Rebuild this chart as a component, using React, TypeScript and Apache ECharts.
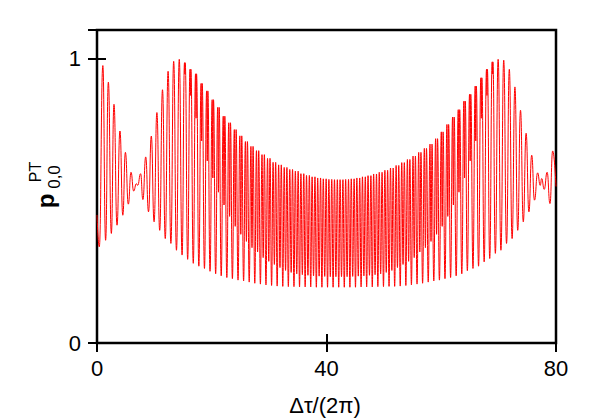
import React, { useEffect, useRef } from 'react';
import * as echarts from 'echarts';

const xTickValues = [0, 40, 80];
const yTickValues = [0, 1];

// Left edge and the first node: turning points
const leftX = [0, 0.4, 1.02, 1.5, 1.98, 2.5, 2.96, 3.49, 4.0, 4.5, 4.95, 5.46, 5.93, 6.39, 6.86, 7.09, 7.6];
const leftY = [0.45, 0.338, 0.975, 0.361, 0.917, 0.385, 0.839, 0.414, 0.745, 0.449, 0.67, 0.488, 0.6, 0.534, 0.56, 0.554, 0.595];

// Positions of the deep minima of each oscillation (n = 0..70)
const cycleLowX = [
  8.0, 8.98, 9.95, 10.93, 11.9, 12.88, 13.85, 14.83, 15.8, 16.78,
  17.75, 18.73, 19.7, 20.68, 21.65, 22.63, 23.6, 24.58, 25.55, 26.53,
  27.5, 28.48, 29.45, 30.43, 31.4, 32.38, 33.35, 34.33, 35.3, 36.28,
  37.25, 38.23, 39.2, 40.18, 41.15, 42.13, 43.1, 44.08, 45.05, 46.03,
  47.0, 47.98, 48.95, 49.93, 50.9, 51.88, 52.85, 53.83, 54.8, 55.78,
  56.75, 57.73, 58.7, 59.68, 60.65, 61.63, 62.6, 63.58, 64.55, 65.53,
  66.5, 67.48, 68.45, 69.43, 70.4, 71.38, 72.35, 73.33, 74.3, 75.28,
  76.25,
];
// Deep minimum values
const cycleLow = [
  0.504, 0.461, 0.426, 0.396, 0.367, 0.35, 0.326, 0.309, 0.294, 0.28,
  0.27, 0.262, 0.252, 0.243, 0.236, 0.23, 0.226, 0.221, 0.218, 0.214,
  0.21, 0.207, 0.204, 0.202, 0.2, 0.199, 0.198, 0.198, 0.197, 0.197,
  0.197, 0.196, 0.196, 0.196, 0.196, 0.196, 0.196, 0.196, 0.196, 0.197,
  0.197, 0.197, 0.198, 0.198, 0.199, 0.199, 0.2, 0.202, 0.204, 0.207,
  0.21, 0.214, 0.218, 0.221, 0.226, 0.23, 0.236, 0.243, 0.254, 0.262,
  0.27, 0.285, 0.297, 0.315, 0.326, 0.35, 0.367, 0.396, 0.426, 0.461,
  0.502,
];
// Peak value of each oscillation (n = 0..69)
const cyclePeak = [
  0.654, 0.727, 0.81, 0.89, 0.955, 0.99, 0.997, 0.985, 0.962, 0.946,
  0.912, 0.886, 0.855, 0.828, 0.797, 0.774, 0.75, 0.728, 0.708, 0.691,
  0.676, 0.662, 0.649, 0.635, 0.626, 0.617, 0.61, 0.604, 0.595, 0.589,
  0.584, 0.58, 0.577, 0.575, 0.574, 0.574, 0.575, 0.577, 0.58, 0.584,
  0.588, 0.594, 0.6, 0.607, 0.615, 0.624, 0.634, 0.645, 0.657, 0.67,
  0.684, 0.699, 0.718, 0.742, 0.768, 0.794, 0.82, 0.85, 0.874, 0.903,
  0.932, 0.962, 0.988, 0.997, 0.994, 0.962, 0.9, 0.818, 0.737, 0.66,
];
// Secondary dip between the split peaks (null: single peak)
const cycleDip = [
  null, null, null, null, null, null, null, 0.945, 0.87, 0.79,
  0.71, 0.64, 0.58, 0.53, 0.485, 0.445, 0.41, 0.382, 0.357, 0.335,
  0.32, 0.3, 0.287, 0.276, 0.265, 0.255, 0.248, 0.243, 0.24, 0.238,
  0.236, 0.235, 0.234, 0.233, 0.233, 0.233, 0.233, 0.234, 0.235, 0.236,
  0.238, 0.24, 0.243, 0.248, 0.255, 0.265, 0.276, 0.287, 0.3, 0.32,
  0.335, 0.357, 0.382, 0.41, 0.445, 0.485, 0.53, 0.58, 0.64, 0.71,
  0.79, 0.87, 0.945, null, null, null, null, null, null, null,
];
// Distance between the two split peaks
const cycleSep = [
  0, 0, 0, 0, 0, 0, 0, 0.12, 0.15, 0.17,
  0.19, 0.21, 0.23, 0.25, 0.27, 0.29, 0.31, 0.33, 0.35, 0.37,
  0.39, 0.41, 0.43, 0.45, 0.46, 0.47, 0.48, 0.49, 0.5, 0.5,
  0.5, 0.5, 0.5, 0.5, 0.5, 0.5, 0.5, 0.5, 0.5, 0.5,
  0.5, 0.5, 0.49, 0.48, 0.47, 0.46, 0.45, 0.43, 0.41, 0.39,
  0.37, 0.35, 0.33, 0.31, 0.29, 0.27, 0.25, 0.23, 0.21, 0.19,
  0.17, 0.15, 0.12, 0, 0, 0, 0, 0, 0, 0,
];

// Right node and right edge turning points
const rightX = [76.8, 77.25, 77.5, 77.95, 78.45, 78.95, 79.42, 80];
const rightY = [0.598, 0.554, 0.578, 0.54, 0.6, 0.49, 0.675, 0.55];

const FONT = '"Liberation Sans", Arial, Helvetica, sans-serif';

function buildPoints(): [number, number][] {
  const pts: [number, number][] = [];
  leftX.forEach((x, i) => pts.push([x, leftY[i]]));
  for (let n = 0; n < cyclePeak.length; n++) {
    const m0 = cycleLowX[n];
    const m1 = cycleLowX[n + 1];
    pts.push([m0, cycleLow[n]]);
    const c = (m0 + m1) / 2;
    const dip = cycleDip[n];
    if (dip === null) {
      pts.push([c, cyclePeak[n]]);
    } else {
      const h = cycleSep[n] / 2;
      pts.push([c - h, cyclePeak[n]]);
      pts.push([c, dip]);
      pts.push([c + h, cyclePeak[n]]);
    }
  }
  const last = cycleLowX.length - 1;
  pts.push([cycleLowX[last], cycleLow[last]]);
  rightX.forEach((x, i) => pts.push([x, rightY[i]]));
  return pts;
}

export default function App() {
  const ref = useRef<HTMLDivElement>(null);
  useEffect(() => {
    if (!ref.current) return;
    const chart = echarts.init(ref.current, undefined, { renderer: 'svg' });
    const axisCommonX = {
      type: 'value' as const,
      min: xTickValues[0],
      max: xTickValues[xTickValues.length - 1],
      interval: xTickValues[1] - xTickValues[0],
      splitLine: { show: false },
      axisLine: { show: false },
      axisTick: { show: true, inside: true, length: 9, lineStyle: { color: '#000', width: 2 } },
    };
    const axisCommonY = {
      type: 'value' as const,
      min: yTickValues[0],
      max: 1.1,
      interval: yTickValues[1] - yTickValues[0],
      splitLine: { show: false },
      axisLine: { show: false },
      axisTick: { show: true, inside: true, length: 9, lineStyle: { color: '#000', width: 2 } },
    };
    chart.setOption({
      animation: false,
      grid: {
        left: 97,
        right: 42,
        top: 30,
        bottom: 76,
        show: true,
        borderColor: '#000',
        borderWidth: 2.5,
        backgroundColor: 'transparent',
      },
      xAxis: [
        {
          ...axisCommonX,
          position: 'bottom',
          axisLabel: { show: true, fontSize: 22, color: '#000', fontFamily: FONT, margin: 14 },
        },
        {
          ...axisCommonX,
          position: 'top',
          axisLabel: { show: false },
        },
      ],
      yAxis: [
        {
          ...axisCommonY,
          position: 'left',
          axisLabel: {
            show: true,
            fontSize: 22,
            color: '#000',
            fontFamily: FONT,
            margin: 16,
            showMaxLabel: false,
          },
        },
        {
          ...axisCommonY,
          position: 'right',
          axisLabel: { show: false },
        },
      ],
      graphic: [
        {
          type: 'text',
          x: 325,
          y: 405,
          style: {
            text: 'Δτ/(2π)',
            fontSize: 22,
            fontFamily: FONT,
            fill: '#000',
            align: 'center',
            verticalAlign: 'middle',
          },
        },
        {
          type: 'text',
          x: 45,
          y: 201,
          rotation: Math.PI / 2,
          style: {
            text: 'p',
            fontSize: 24,
            fontWeight: 'bold',
            fontFamily: FONT,
            fill: '#000',
            align: 'center',
            verticalAlign: 'middle',
          },
        },
        {
          type: 'text',
          x: 54,
          y: 177,
          rotation: Math.PI / 2,
          style: {
            text: '0,0',
            fontSize: 17,
            fontFamily: FONT,
            fill: '#000',
            align: 'center',
            verticalAlign: 'middle',
          },
        },
        {
          type: 'text',
          x: 35,
          y: 172,
          rotation: Math.PI / 2,
          style: {
            text: 'PT',
            fontSize: 16,
            fontFamily: FONT,
            fill: '#000',
            align: 'center',
            verticalAlign: 'middle',
          },
        },
      ],
      series: [
        {
          type: 'line',
          xAxisIndex: 0,
          yAxisIndex: 0,
          data: buildPoints(),
          showSymbol: false,
          smooth: 0.5,
          smoothMonotone: 'x',
          silent: true,
          lineStyle: { color: '#ff0000', width: 1 },
        },
      ],
    });
    return () => chart.dispose();
  }, []);
  return (
    <div
      ref={ref}
      style={{ position: 'fixed', left: 0, top: 0, width: 598, height: 419, background: '#fff' }}
    />
  );
}
